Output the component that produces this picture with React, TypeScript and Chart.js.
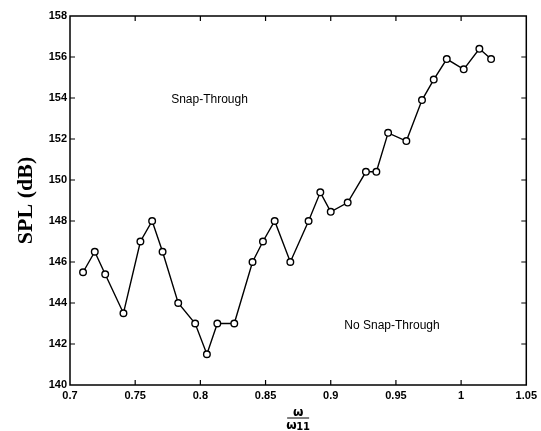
import React, { useEffect, useRef } from "react";
import { Chart, registerables } from "chart.js";

Chart.register(...registerables);

const FREQ_RATIO = [
  0.71, 0.719, 0.727, 0.741, 0.754, 0.763, 0.771, 0.783, 0.796, 0.805,
  0.813, 0.826, 0.84, 0.848, 0.857, 0.869, 0.883, 0.892, 0.9, 0.913,
  0.927, 0.935, 0.944, 0.958, 0.97, 0.979, 0.989, 1.002, 1.014, 1.023,
];
const SPL_DB = [
  145.5, 146.5, 145.4, 143.5, 147.0, 148.0, 146.5, 144.0, 143.0, 141.5,
  143.0, 143.0, 146.0, 147.0, 148.0, 146.0, 148.0, 149.4, 148.45, 148.9,
  150.4, 150.4, 152.3, 151.9, 153.9, 154.9, 155.9, 155.4, 156.4, 155.9,
];
const X_TICKS = [0.7, 0.75, 0.8, 0.85, 0.9, 0.95, 1.0, 1.05];
const X_TICK_LABELS = ["0.7", "0.75", "0.8", "0.85", "0.9", "0.95", "1", "1.05"];
const Y_TICKS = [140, 142, 144, 146, 148, 150, 152, 154, 156, 158];
const Y_TITLE = "SPL (dB)";
const ANNOTATIONS = [
  { text: "Snap-Through", x: 0.807, y: 153.9 },
  { text: "No Snap-Through", x: 0.947, y: 142.9 },
];

const framePlugin = {
  id: "matlabFrame",
  afterDraw(chart: any) {
    const { ctx, chartArea: a, scales } = chart;
    const xs = scales.x;
    const ys = scales.y;
    ctx.save();
    ctx.strokeStyle = "#000";
    ctx.lineWidth = 1.5;
    ctx.strokeRect(a.left, a.top, a.right - a.left, a.bottom - a.top);
    ctx.lineWidth = 1.2;
    const tl = 5;
    ctx.beginPath();
    X_TICKS.slice(1, -1).forEach((v) => {
      const px = xs.getPixelForValue(v);
      ctx.moveTo(px, a.bottom);
      ctx.lineTo(px, a.bottom - tl);
      ctx.moveTo(px, a.top);
      ctx.lineTo(px, a.top + tl);
    });
    Y_TICKS.slice(1, -1).forEach((v) => {
      const py = ys.getPixelForValue(v);
      ctx.moveTo(a.left, py);
      ctx.lineTo(a.left + tl, py);
      ctx.moveTo(a.right, py);
      ctx.lineTo(a.right - tl, py);
    });
    ctx.stroke();

    ctx.fillStyle = "#000";
    ctx.font = "12px 'Liberation Sans', Arial, sans-serif";
    ctx.textAlign = "center";
    ctx.textBaseline = "middle";
    ANNOTATIONS.forEach((an) => {
      ctx.fillText(an.text, xs.getPixelForValue(an.x), ys.getPixelForValue(an.y));
    });

    // x-axis title: omega / omega_11
    const cx = (a.left + a.right) / 2;
    ctx.font = "bold 12px 'DejaVu Sans', sans-serif";
    ctx.textBaseline = "alphabetic";
    ctx.fillText("ω", cx, a.bottom + 31);
    ctx.lineWidth = 1;
    ctx.beginPath();
    ctx.moveTo(cx - 11, a.bottom + 33);
    ctx.lineTo(cx + 11, a.bottom + 33);
    ctx.stroke();
    ctx.textAlign = "left";
    ctx.fillText("ω", cx - 12, a.bottom + 44);
    ctx.font = "bold 10px 'DejaVu Sans', sans-serif";
    ctx.fillText("11", cx - 2, a.bottom + 45);
    ctx.restore();
  },
};

export default function App() {
  const ref = useRef<HTMLCanvasElement | null>(null);
  useEffect(() => {
    document.body.style.margin = "0";
    const canvas = ref.current;
    if (!canvas) return;
    const chart = new Chart(canvas, {
      type: "line",
      data: {
        datasets: [
          {
            data: FREQ_RATIO.map((x, i) => ({ x, y: SPL_DB[i] })),
            borderColor: "#000",
            borderWidth: 1.4,
            pointRadius: 3.3,
            pointBorderWidth: 1.4,
            pointBackgroundColor: "#fff",
            pointBorderColor: "#000",
            tension: 0,
            fill: false,
          },
        ],
      },
      options: {
        animation: false,
        responsive: false,
        layout: { padding: { top: 16, right: 13, left: 0, bottom: 0 } },
        plugins: { legend: { display: false }, tooltip: { enabled: false } },
        scales: {
          x: {
            type: "linear",
            min: 0.7,
            max: 1.05,
            grid: { display: false, drawTicks: false },
            border: { display: false },
            afterBuildTicks: (s: any) => {
              s.ticks = X_TICKS.map((v) => ({ value: v }));
            },
            afterFit: (s: any) => {
              s.height = 46;
            },
            ticks: {
              padding: 4,
              color: "#000",
              font: { family: "'Liberation Sans', Arial, sans-serif", size: 11, weight: "bold" },
              callback: (v: any) => {
                const i = X_TICKS.findIndex((t) => Math.abs(t - v) < 1e-6);
                return i >= 0 ? X_TICK_LABELS[i] : "";
              },
              maxRotation: 0,
            },
          },
          y: {
            type: "linear",
            min: 140,
            max: 158,
            grid: { display: false, drawTicks: false },
            border: { display: false },
            afterBuildTicks: (s: any) => {
              s.ticks = Y_TICKS.map((v) => ({ value: v }));
            },
            afterFit: (s: any) => {
              s.width = 70;
            },
            ticks: {
              padding: 3,
              color: "#000",
              font: { family: "'Liberation Sans', Arial, sans-serif", size: 11, weight: "bold" },
              callback: (v: any) => String(v),
            },
            title: {
              display: true,
              text: Y_TITLE,
              color: "#000",
              font: { family: "'Liberation Serif', 'Times New Roman', serif", size: 22, weight: "bold" },
              padding: { top: 13, bottom: 0 },
            },
          },
        },
      },
      plugins: [framePlugin],
    });
    return () => chart.destroy();
  }, []);
  return (
    <div style={{ width: 541, height: 431, background: "#fff" }}>
      <canvas ref={ref} width={541} height={431} style={{ display: "block" }} />
    </div>
  );
}
